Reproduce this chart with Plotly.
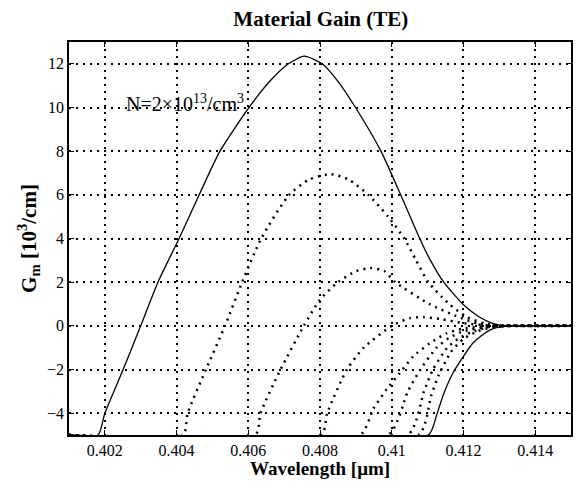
import plotly.graph_objects as go

# Material gain spectra (TE) for a set of carrier densities, values in 10^3/cm.
# Values below the lower axis limit are held at -5 so they run along the frame.
wl_1 = [0.401, 0.40181, 0.4020, 0.40251, 0.4030, 0.40348, 0.40407, 0.40463, 0.40521,
        0.40602, 0.4066, 0.40712, 0.40756, 0.40806, 0.4085, 0.40899, 0.4097, 0.41025,
        0.41078, 0.41108, 0.41145, 0.41198, 0.4124, 0.41275, 0.4130, 0.4135, 0.415]
g_1 = [-5, -5, -4, -2, 0, 2, 4, 6, 8,
       10, 11.2, 12, 12.35, 12, 11.2, 10, 8, 6,
       4, 3, 2, 1, 0.45, 0.15, 0.03, 0, 0]

wl_2 = [0.401, 0.40418, 0.40431, 0.40482, 0.40535, 0.40583, 0.40636, 0.40714, 0.4077,
        0.4083, 0.4088, 0.40935, 0.4099, 0.41035, 0.41068, 0.41102, 0.4116, 0.4121,
        0.4126, 0.4132, 0.415]
g_2 = [-5, -5, -4, -2, 0, 2, 4, 6, 6.7,
       6.95, 6.7, 6, 5, 4, 3, 2, 1, 0.4,
       0.1, 0, 0]

wl_3 = [0.401, 0.4062, 0.40634, 0.4069, 0.40755, 0.4080, 0.4085, 0.4090, 0.4094,
        0.4098, 0.4101, 0.41105, 0.4118, 0.4124, 0.4130, 0.415]
g_3 = [-5, -5, -4, -2, 0, 1.2, 2.0, 2.5, 2.65,
       2.5, 2.0, 1.0, 0.45, 0.1, 0, 0]

wl_4 = [0.401, 0.40804, 0.4082, 0.40875, 0.40922, 0.4100, 0.4105, 0.4109, 0.4114,
        0.4120, 0.4127, 0.4132, 0.415]
g_4 = [-5, -5, -4, -2, -1, 0, 0.35, 0.4, 0.3,
       0.12, 0.02, 0, 0]

wl_5 = [0.401, 0.40912, 0.40949, 0.40986, 0.41023, 0.4106, 0.41106, 0.41152, 0.412,
        0.4127, 0.4132, 0.415]
g_5 = [-5, -5, -3.8, -2.9, -2.15, -1.4, -0.8, -0.35, -0.12,
       -0.02, 0, 0]

wl_6 = [0.401, 0.4099, 0.41045, 0.4108, 0.41125, 0.4116, 0.4120, 0.4127, 0.4132, 0.415]
g_6 = [-5, -5, -3, -2, -1, -0.55, -0.25, -0.04, 0, 0]

wl_7 = [0.401, 0.41045, 0.4109, 0.41115, 0.41155, 0.41185, 0.4122, 0.4127, 0.4132, 0.415]
g_7 = [-5, -5, -3, -2, -1, -0.6, -0.3, -0.06, 0, 0]

wl_8 = [0.401, 0.41075, 0.4111, 0.4113, 0.41165, 0.4120, 0.4124, 0.4128, 0.4133, 0.415]
g_8 = [-5, -5, -3.2, -2.3, -1.2, -0.6, -0.25, -0.06, 0, 0]

wl_9 = [0.401, 0.41102, 0.41125, 0.41143, 0.41171, 0.412, 0.41226, 0.4125, 0.4128,
        0.4131, 0.4135, 0.415]
g_9 = [-5, -5, -4.1, -3.2, -2.15, -1.4, -0.8, -0.45, -0.15,
       -0.04, 0, 0]

curves = [(wl_1, g_1, "solid"), (wl_2, g_2, "dot"), (wl_3, g_3, "dot"),
          (wl_4, g_4, "dot"), (wl_5, g_5, "dot"), (wl_6, g_6, "dot"),
          (wl_7, g_7, "dot"), (wl_8, g_8, "dot"), (wl_9, g_9, "solid")]

x_ticks = [0.402, 0.404, 0.406, 0.408, 0.41, 0.412, 0.414]
x_labels = ["0.402", "0.404", "0.406", "0.408", "0.41", "0.412", "0.414"]
y_ticks = [-4, -2, 0, 2, 4, 6, 8, 10, 12]

SERIF = "Liberation Serif"

fig = go.Figure()
for wl, g, style in curves:
    if style == "solid":
        line = dict(color="black", width=1.3, shape="spline", smoothing=0.6)
    else:
        line = dict(color="black", width=2.5, dash="2px,5px", shape="spline", smoothing=0.6)
    fig.add_trace(go.Scatter(x=wl, y=g, mode="lines", line=line,
                             showlegend=False, hoverinfo="skip"))

fig.add_annotation(x=0.40253, y=10.2, xref="x", yref="y", xanchor="left", yanchor="middle",
                   text="N=2×10<sup>13</sup>/cm<sup>3</sup>", showarrow=False,
                   font=dict(family=SERIF, size=20, color="black"))

# x-axis title placed just under the tick labels
fig.add_annotation(x=0.5, y=-0.085, xref="paper", yref="paper", xanchor="center",
                   yanchor="middle", text="<b>Wavelength [μm]</b>", showarrow=False,
                   font=dict(family=SERIF, size=19, color="black"))

axis_common = dict(
    showline=True, linecolor="black", linewidth=1.6, mirror="allticks",
    ticks="inside", ticklen=5, tickcolor="black", tickwidth=1.2,
    showgrid=True, gridcolor="black", gridwidth=2.3, griddash="2px,5px",
    zeroline=False, tickfont=dict(family=SERIF, size=16, color="black"),
)

fig.update_layout(
    width=576, height=482,
    margin=dict(l=69, r=3, t=42, b=47),
    paper_bgcolor="white", plot_bgcolor="white",
    title=dict(text="<b>Material Gain (TE)</b>", x=0.557, xanchor="center",
               y=0.962, yanchor="middle",
               font=dict(family=SERIF, size=21, color="black")),
    xaxis=dict(range=[0.401, 0.415], tickvals=x_ticks, ticktext=x_labels,
               **axis_common),
    yaxis=dict(range=[-5, 13], tickvals=y_ticks,
               title=dict(text="<b>G<sub>m</sub> [10<sup>3</sup>/cm]</b>", standoff=5,
                          font=dict(family=SERIF, size=21, color="black")),
               **axis_common),
)

fig.write_html("out.html")
